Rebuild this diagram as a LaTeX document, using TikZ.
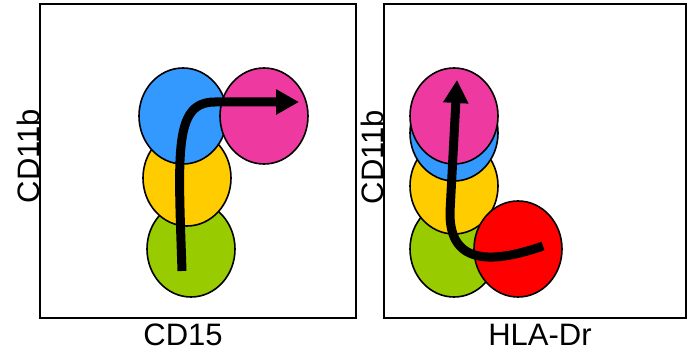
\documentclass[tikz,border=0pt]{standalone}
\usepackage{fontspec}
\setmainfont{Liberation Sans}
\usetikzlibrary{shapes.geometric,arrows.meta}
\definecolor{cgreen}{HTML}{99CC00}
\definecolor{cyellow}{HTML}{FFCC00}
\definecolor{cblue}{HTML}{3399FF}
\definecolor{cpink}{HTML}{EE3AA0}
\definecolor{cred}{HTML}{FF0000}

\begin{document}
\begin{tikzpicture}[x=1pt,y=-1pt,
  cell/.style={ellipse,draw=black,line width=1.6pt,minimum width=88pt,minimum height=96pt,inner sep=0pt},
  trail/.style={line width=9pt,-{Triangle[length=23pt,width=24pt]}},
  axlab/.style={font=\fontsize{31}{36}\selectfont,inner sep=0pt,anchor=base}]
  \useasboundingbox (0,0) rectangle (687,352);
  % plot frames
  \draw[line width=2pt] (40,4) rectangle (356,318);
  \draw[line width=2pt] (384,4) rectangle (686,318);
  % CD15 vs CD11b
  \foreach \n/\x/\y/\c in {gL/191/249/cgreen,yL/187/178/cyellow,bL/183/116/cblue,pL/264/116/cpink} {
    \node[cell,fill=\c] (\n) at (\x,\y) {};
  }
  % HLA-Dr vs CD11b
  \foreach \n/\x/\y/\c in {gR/454/249/cgreen,yR/454/186/cyellow,bR/454/133/cblue,pR/454/116/cpink,rR/518/249/cred} {
    \node[cell,fill=\c] (\n) at (\x,\y) {};
  }
  % trajectories
  \coordinate (sL) at (182,271);
  \coordinate (eL) at (299,102);
  \draw[trail] (sL) .. controls (178,150) and (174,102) .. (215,102) -- (eL);
  \coordinate (sR) at (543,246);
  \coordinate (eR) at (457,80);
  \draw[trail] (sR) .. controls (497,262) and (449,268) .. (450,212) -- (eR);
  % axis labels
  \node[axlab] (xL) at (183,345) {CD15};
  \node[axlab] (xR) at (540,345) {HLA-Dr};
  \node[axlab,rotate=90] (yLab) at (39,156) {CD11b};
  \node[axlab,rotate=90] (yRab) at (383,157) {CD11b};
\end{tikzpicture}
\end{document}
